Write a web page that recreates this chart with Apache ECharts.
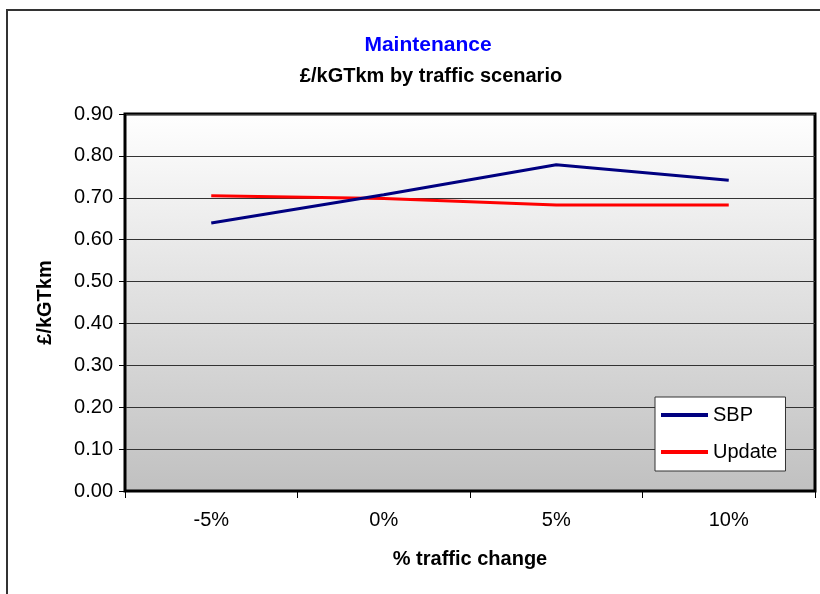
<!DOCTYPE html>
<html>
<head>
<meta charset="utf-8">
<script src="https://cdn.jsdelivr.net/npm/echarts@6/dist/echarts.min.js"></script>
<style>
  html, body { margin: 0; padding: 0; background: #fff; }
  #chart { width: 820px; height: 594px; }
</style>
</head>
<body>
<div id="chart"></div>
<script>
// Traffic scenarios and maintenance cost (£ per thousand gross tonne km)
const categories = ['-5%', '0%', '5%', '10%'];
const sbpValues = [0.64, 0.707, 0.779, 0.742];
const updateValues = [0.705, 0.698, 0.683, 0.683];
const seriesNames = ['SBP', 'Update'];

const FONT = '"Liberation Sans", Arial, sans-serif';

const chart = echarts.init(document.getElementById('chart'), null, { renderer: 'canvas' });

chart.setOption({
  animation: false,
  textStyle: { fontFamily: FONT },
  title: [
    {
      text: 'Maintenance',
      left: 423, top: 30, textAlign: 'center',
      textStyle: { color: '#0000ff', fontSize: 21, fontWeight: 'bold', fontFamily: FONT }
    },
    {
      text: '£/kGTkm by traffic scenario',
      left: 426, top: 61, textAlign: 'center',
      textStyle: { color: '#000', fontSize: 20, fontWeight: 'bold', fontFamily: FONT }
    }
  ],
  graphic: [
    {
      type: 'rect',
      shape: { x: 7, y: 10, width: 900, height: 700 },
      style: { fill: 'none', stroke: '#333', lineWidth: 2 },
      silent: true,
      z: -1
    }
  ],
  legend: {
    orient: 'vertical',
    left: 655, top: 397,
    width: 128,
    backgroundColor: '#fff',
    borderColor: '#333',
    borderWidth: 1,
    padding: [8, 8, 9, 6],
    itemGap: 17,
    itemWidth: 47,
    itemHeight: 4,
    icon: 'rect',
    textStyle: { fontSize: 20, color: '#000', fontFamily: FONT, padding: [0, 0, 0, 0] },
    data: seriesNames
  },
  grid: {
    left: 125, right: 5, top: 114, bottom: 103,
    show: true,
    borderColor: '#000',
    borderWidth: 3,
    backgroundColor: {
      type: 'linear', x: 0, y: 0, x2: 0, y2: 1,
      colorStops: [
        { offset: 0, color: '#ffffff' },
        { offset: 1, color: '#c0c0c0' }
      ]
    }
  },
  xAxis: {
    type: 'category',
    data: categories,
    boundaryGap: true,
    name: '% traffic change',
    nameLocation: 'middle',
    nameGap: 58,
    nameTextStyle: { fontSize: 20, fontWeight: 'bold', color: '#000', fontFamily: FONT },
    axisLine: { show: true, lineStyle: { color: '#000', width: 1 } },
    axisTick: { show: true, interval: 0, length: 7, lineStyle: { color: '#000' } },
    axisLabel: { fontSize: 20, color: '#000', margin: 19, fontFamily: FONT },
    splitLine: { show: false }
  },
  yAxis: {
    type: 'value',
    min: 0, max: 0.9, interval: 0.1,
    name: '£/kGTkm',
    nameLocation: 'middle',
    nameRotate: 90,
    nameGap: 70,
    nameTextStyle: { fontSize: 20, fontWeight: 'bold', color: '#000', fontFamily: FONT },
    axisLine: { show: true, lineStyle: { color: '#000', width: 1 } },
    axisTick: { show: true, length: 6, lineStyle: { color: '#000' } },
    axisLabel: {
      fontSize: 20, color: '#000', margin: 12, fontFamily: FONT,
      formatter: v => v.toFixed(2)
    },
    splitLine: { show: true, lineStyle: { color: '#333', width: 1 } }
  },
  series: [
    {
      name: seriesNames[0],
      type: 'line',
      data: sbpValues,
      showSymbol: false,
      symbol: 'none',
      lineStyle: { color: '#000080', width: 3 },
      itemStyle: { color: '#000080' },
      z: 3
    },
    {
      name: seriesNames[1],
      type: 'line',
      data: updateValues,
      showSymbol: false,
      symbol: 'none',
      lineStyle: { color: '#ff0000', width: 3 },
      itemStyle: { color: '#ff0000' },
      z: 2
    }
  ]
});
</script>
</body>
</html>
